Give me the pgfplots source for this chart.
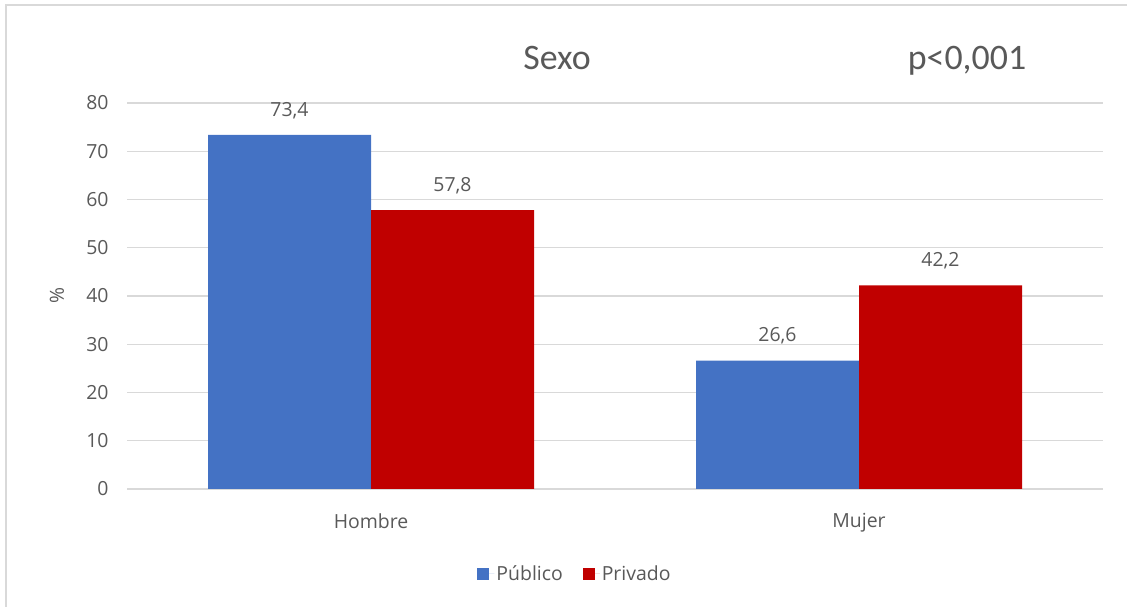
\documentclass[border=0pt]{standalone}
\usepackage{pgfplots}
\pgfplotsset{compat=1.18}
\usepackage{fontspec}
\setmainfont{Open Sans}
\newfontfamily\titlefont{Carlito}
\definecolor{txt}{HTML}{595959}
\definecolor{gridc}{HTML}{D9D9D9}
\definecolor{publico}{HTML}{4472C4}
\definecolor{privado}{HTML}{C00000}
\newcommand{\lblfont}{\fontsize{19.5}{22}\selectfont}
\begin{document}
\begin{tikzpicture}[x=1bp,y=1bp]
\useasboundingbox (0,0) rectangle (1127,607);
% chart frame (left and top edges)
\draw[gridc, line width=1.5bp] (6,0) -- (6,602) -- (1127,602);
% titles
\node[txt, font=\titlefont\fontsize{36}{40}\selectfont, anchor=base] at (557,537) {Sexo};
\node[txt, font=\titlefont\fontsize{36}{40}\selectfont, anchor=base] at (967,537) {p<0,001};
\begin{axis}[
  at={(127bp,118bp)}, anchor=south west,
  scale only axis, width=976bp, height=386bp,
  ybar=0pt, bar width=163bp,
  xmin=-0.5, xmax=1.5, ymin=0, ymax=80,
  xtick={0,1}, xticklabels={Hombre,Mujer},
  ytick={0,10,...,80},
  ymajorgrids, grid style={gridc, line width=1.2bp},
  axis line style={draw=none},
  major tick length=0pt,
  tick label style={txt, font=\lblfont},
  /pgf/number format/assume math mode=true,
  xticklabel style={yshift=-21bp},
  yticklabel style={xshift=-15bp},
  ylabel={\%},
  every axis y label/.style={at={(axis description cs:-0.0717,0.5)}, rotate=90, anchor=center, txt, font=\lblfont},
  nodes near coords,
  nodes near coords style={txt, font=\lblfont, anchor=south, inner sep=0pt, yshift=16bp,
    /pgf/number format/.cd, fixed, fixed zerofill, precision=1, use comma, assume math mode=true},
  legend style={at={(axis description cs:0.459,-0.22)}, anchor=center, draw=none,
    font=\lblfont, text=txt, legend columns=2,
    /tikz/every even column/.append style={column sep=18bp}},
  legend image code/.code={\fill[#1] (0bp,-6bp) rectangle (12bp,6bp);
    \path (0bp,0bp) -- (17bp,0bp);},
]
\addplot[fill=publico, draw=none] coordinates {(0,73.4) (1,26.6)};
\addplot[fill=privado, draw=none] coordinates {(0,57.8) (1,42.2)};
\legend{Público,Privado}
\end{axis}
\end{tikzpicture}
\end{document}
